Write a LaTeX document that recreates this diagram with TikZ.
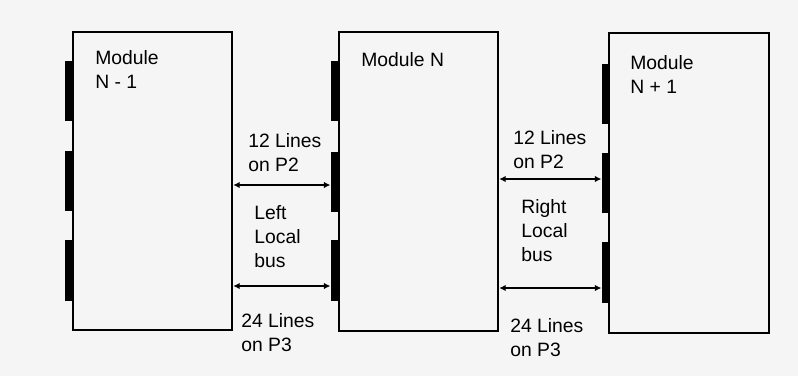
\documentclass[tikz,border=0pt]{standalone}
\usepackage{fontspec}
\setmainfont{Liberation Sans}
\usetikzlibrary{arrows.meta, positioning}

\tikzset{
  every node/.style={font=\fontsize{11}{13.6}\selectfont},
  module/.style={
    draw=black, line width=1.1pt, rectangle, inner sep=0pt,
    minimum width=3.19cm
  },
  conbar/.style={
    draw=none, fill=black, rectangle, inner sep=0pt,
    minimum width=0.15cm, minimum height=1.22cm
  },
  lbl/.style={anchor=north west, align=left, inner sep=0pt, text=black},
  bus/.style={{Latex[length=1.3mm,width=1.3mm]}-{Latex[length=1.3mm,width=1.3mm]}, line width=1.0pt},
}

\begin{document}
\begin{tikzpicture}[x=0.02cm, y=-0.02cm]
    % page
    \path[fill=black!4, use as bounding box] (0,0) rectangle (798,376);

    % Modules
    \node[module, minimum height=5.96cm] (modprev) at (152.5,181) {};
    \node[module, minimum height=5.98cm] (modn) at (418.5,181.5) {};
    \node[module, minimum height=6.00cm] (modnext) at (689,183) {};

    % Connectors on the left side of each module
    \node[conbar] (prev1) at (69,91) {};
    \node[conbar] (prev2) at (69,181) {};
    \node[conbar] (prev3) at (69,270) {};

    \node[conbar] (n1) at (334.5,91) {};
    \node[conbar] (n2) at (334.5,182) {};
    \node[conbar] (n3) at (334.5,270) {};

    \node[conbar] (next1) at (605.5,94) {};
    \node[conbar] (next2) at (605.5,183) {};
    \node[conbar] (next3) at (605.5,272.5) {};

    % Module names
    \node[lbl] (nameprev) at (95,50) {Module\\N - 1};
    \node[lbl] (namen) at (361,52) {Module N};
    \node[lbl] (namenext) at (630,55) {Module\\N + 1};

    % Left local bus
    \draw[bus] ([yshift=-0.06cm]n2.west -| modprev.east) -- ([yshift=-0.06cm]n2.west);
    \draw[bus] ([yshift=-0.32cm]n3.west -| modprev.east) -- ([yshift=-0.32cm]n3.west);
    \node[lbl] (leftp2) at (248,133) {12 Lines\\on P2};
    \node[lbl] (leftbus) at (254,205) {Left\\Local\\bus};
    \node[lbl] (leftp3) at (241,313) {24 Lines\\on P3};

    % Right local bus
    \draw[bus] ([yshift=0.08cm]next2.west -| modn.east) -- ([yshift=0.08cm]next2.west);
    \draw[bus] ([yshift=-0.31cm]next3.west -| modn.east) -- ([yshift=-0.31cm]next3.west);
    \node[lbl] (rightp2) at (513,130) {12 Lines\\on P2};
    \node[lbl] (rightbus) at (521,199) {Right\\Local\\bus};
    \node[lbl] (rightp3) at (510,318) {24 Lines\\on P3};

\end{tikzpicture}
\end{document}
